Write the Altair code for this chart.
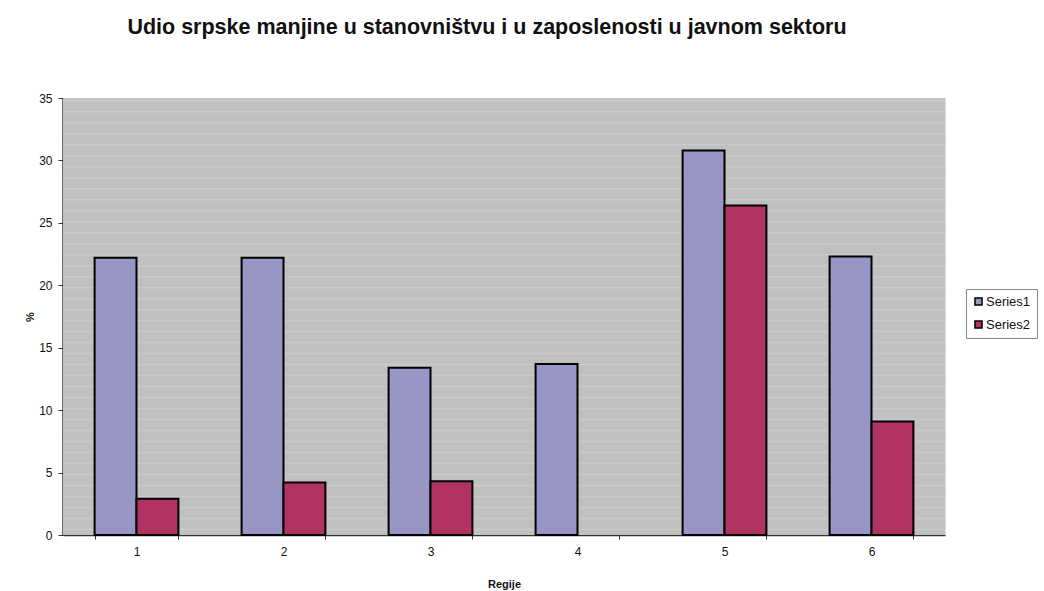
import altair as alt
import pandas as pd
import numpy as np

regions = ["1", "2", "3", "4", "5", "6"]
series1 = [22.2, 22.2, 13.4, 13.7, 30.8, 22.3]
series2 = [2.9, 4.2, 4.3, None, 26.4, 9.1]

rows = []
for r, a, b in zip(regions, series1, series2):
    rows.append({"Regija": r, "Serija": "Series1", "Vrijednost": a})
    if b is not None:
        rows.append({"Regija": r, "Serija": "Series2", "Vrijednost": b})
df = pd.DataFrame(rows)

# faint horizontal texture lines across the grey plot background
stripes = pd.DataFrame({"Vrijednost": np.arange(0.45, 35, 0.88)})

W, H = 882, 437
ydom = alt.Scale(domain=[0, 35], nice=False, zero=True)
y_axis = alt.Axis(
    title="%", values=[0, 5, 10, 15, 20, 25, 30, 35], grid=False,
    labelFontSize=12, labelColor="#111", labelPadding=6, tickSize=5,
    tickColor="#333", domainColor="#333", domainWidth=2.5,
    titleFontSize=11, titleFontWeight="bold", titlePadding=3, titleColor="#111",
)

backdrop = alt.Chart(pd.DataFrame({"a": [0]})).mark_rect(color="#c0c0c0").encode(
    x=alt.value(0), x2=alt.value(W), y=alt.value(0), y2=alt.value(H)
)

texture = alt.Chart(stripes).mark_rule(color="#c9c9c9", strokeWidth=1.5).encode(
    y=alt.Y("Vrijednost:Q", scale=ydom, axis=y_axis)
)

bars = alt.Chart(df).mark_bar(stroke="black", strokeWidth=2).encode(
    x=alt.X(
        "Regija:N",
        sort=regions,
        scale=alt.Scale(paddingInner=0.43, paddingOuter=0.215),
        axis=alt.Axis(
            title="Regije", labelAngle=0, tickBand="extent", labelFontSize=12,
            labelColor="#111", labelPadding=7, titleFontSize=11, titleFontWeight="bold",
            titlePadding=21, domainColor="#333", domainWidth=1.5, tickColor="#333",
            tickSize=4, titleColor="#111",
        ),
    ),
    xOffset=alt.XOffset("Serija:N", sort=["Series1", "Series2"]),
    y=alt.Y("Vrijednost:Q", scale=ydom, axis=y_axis),
    color=alt.Color(
        "Serija:N",
        scale=alt.Scale(domain=["Series1", "Series2"], range=["#9896c6", "#b13363"]),
        legend=alt.Legend(
            title=None, orient="none", legendX=903, legendY=191,
            symbolType="square", symbolSize=50, symbolStrokeColor="black",
            symbolStrokeWidth=1.5, labelFontSize=13, labelColor="#111",
            strokeColor="#888", padding=6, rowPadding=8, symbolOffset=0,
            labelOffset=1,
        ),
    ),
)

chart = (
    alt.layer(backdrop, texture, bars)
    .properties(
        width=W,
        height=H,
        autosize="none",
        padding={"left": 63, "top": 98, "right": 99, "bottom": 56},
        title=alt.TitleParams(
            "Udio srpske manjine u stanovništvu i u zaposlenosti u javnom sektoru",
            fontSize=21.5, fontWeight="bold", color="#111", anchor="middle",
            dx=-17, offset=54, font="Liberation Sans",
        ),
        background="white",
    )
    .configure_view(stroke="#8a8a8a", strokeWidth=2)
    .configure(font="Liberation Sans")
)

chart.save("out.html", embed_options={"renderer": "svg", "actions": False})
